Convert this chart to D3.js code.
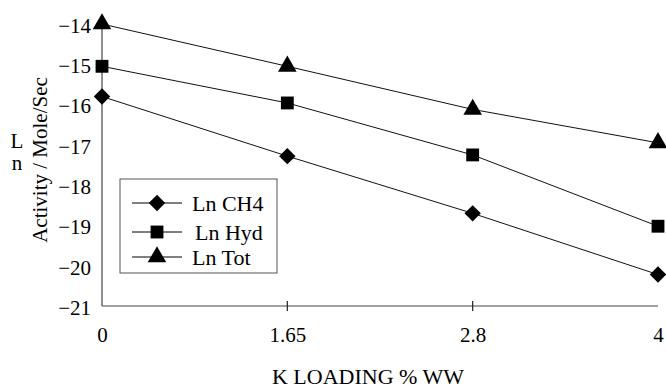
<!DOCTYPE html>
<html>
<head>
<meta charset="utf-8">
<script src="https://cdn.jsdelivr.net/npm/d3@7"></script>
<style>
  body { margin: 0; background: #fff; }
  text { font-family: "Liberation Serif", "Times New Roman", serif; fill: #000; }
</style>
</head>
<body>
<div id="chart"></div>
<script>
// Data
const loadings = ["0", "1.65", "2.8", "4"];
const lnCH4 = [-15.8, -17.28, -18.7, -20.22];
const lnHyd = [-15.05, -15.96, -17.25, -19.02];
const lnTot = [-14.0, -15.05, -16.12, -16.95];
const yTicks = [-21, -20, -19, -18, -17, -16, -15, -14];

const series = [
  { name: "Ln CH4", values: lnCH4, symbol: d3.symbolSquare, size: 135, rotate: 45 },
  { name: "Ln Hyd", values: lnHyd, symbol: d3.symbolSquare, size: 165, rotate: 0 },
  { name: "Ln Tot", values: lnTot, symbol: d3.symbolTriangle, size: 150, rotate: 0 }
];

const width = 666, height = 390;
const fontSize = "21px";

const svg = d3.select("#chart")
  .append("svg")
  .attr("width", width)
  .attr("height", height);

const x = d3.scalePoint().domain(loadings).range([102, 658]);
const y = d3.scaleLinear().domain([-21, -14]).range([306, 24]);

// Axes
const yAxis = svg.append("g")
  .attr("transform", "translate(102,0)")
  .call(d3.axisLeft(y).tickValues(yTicks).tickSize(0).tickPadding(11).tickFormat(d3.format("d")));
yAxis.select(".domain").remove();
yAxis.selectAll("text")
  .style("font-family", "'Liberation Serif', serif")
  .style("font-size", fontSize)
  .attr("dy", "0.4em");

const xAxis = svg.append("g")
  .attr("transform", `translate(0,${y(-21)})`)
  .call(d3.axisBottom(x).tickSize(0).tickPadding(21));
xAxis.select(".domain").remove();
xAxis.selectAll("text")
  .style("font-family", "'Liberation Serif', serif")
  .style("font-size", fontSize);

// axis lines
svg.append("line")
  .attr("x1", x("0")).attr("x2", x("4"))
  .attr("y1", y(-21)).attr("y2", y(-21))
  .attr("stroke", "#444").attr("stroke-width", 1.2);
svg.append("line")
  .attr("x1", x("0")).attr("x2", x("0"))
  .attr("y1", y(-21)).attr("y2", y(-14))
  .attr("stroke", "#444").attr("stroke-width", 1.2);

// inner tick marks on x axis
svg.append("g").selectAll("line")
  .data(loadings.slice(1, -1))
  .join("line")
  .attr("x1", d => x(d)).attr("x2", d => x(d))
  .attr("y1", y(-21) - 5).attr("y2", y(-21) + 5)
  .attr("stroke", "#222").attr("stroke-width", 1.2);

// Lines and markers
const line = d3.line()
  .x((d, i) => x(loadings[i]))
  .y(d => y(d));

series.forEach(s => {
  svg.append("path")
    .datum(s.values)
    .attr("d", line)
    .attr("fill", "none")
    .attr("stroke", "#111")
    .attr("stroke-width", 1);

  svg.append("g").selectAll("path")
    .data(s.values)
    .join("path")
    .attr("transform", (d, i) => `translate(${x(loadings[i])},${y(d)}) rotate(${s.rotate})`)
    .attr("d", d3.symbol().type(s.symbol).size(s.size))
    .attr("fill", "#000");
});

// Legend
const legend = svg.append("g").attr("transform", "translate(120,179)");
legend.append("rect")
  .attr("width", 157).attr("height", 94)
  .attr("fill", "#fff")
  .attr("stroke", "#555").attr("stroke-width", 1);

const rowY = [24, 53, 78];
series.forEach((s, i) => {
  const g = legend.append("g").attr("transform", `translate(0,${rowY[i]})`);
  g.append("line")
    .attr("x1", 12).attr("x2", 62)
    .attr("stroke", "#000").attr("stroke-width", 1);
  g.append("path")
    .attr("transform", `translate(37,0) rotate(${s.rotate})`)
    .attr("d", d3.symbol().type(s.symbol).size(s.size))
    .attr("fill", "#000");
  g.append("text")
    .attr("x", i === 1 ? 75 : 72)
    .attr("dy", "0.35em")
    .style("font-size", "22px")
    .text(s.name);
});

// Axis titles
svg.append("text")
  .attr("x", 368).attr("y", 384)
  .attr("text-anchor", "middle")
  .style("font-size", "22px")
  .text("K LOADING % WW");

svg.append("text")
  .attr("x", 17).attr("y", 148)
  .attr("text-anchor", "middle")
  .style("font-size", fontSize)
  .text("L");
svg.append("text")
  .attr("x", 17).attr("y", 170)
  .attr("text-anchor", "middle")
  .style("font-size", fontSize)
  .text("n");
svg.append("text")
  .attr("transform", "translate(47,160) rotate(-90)")
  .attr("text-anchor", "middle")
  .style("font-size", fontSize)
  .text("Activity / Mole/Sec");
</script>
</body>
</html>
